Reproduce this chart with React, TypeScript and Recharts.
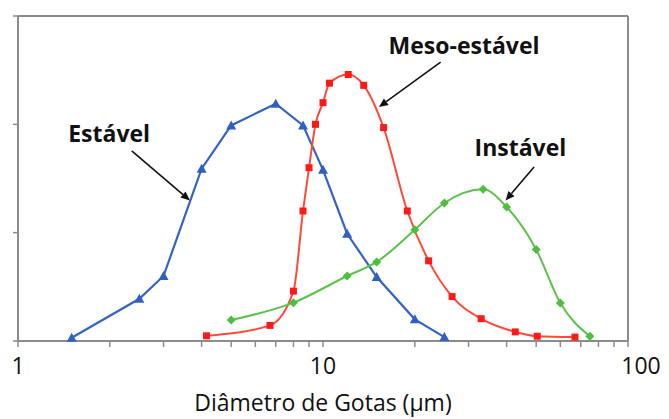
import React from "react";
import {
  LineChart,
  Line,
  XAxis,
  YAxis,
  ReferenceLine,
  ReferenceDot,
} from "recharts";

// droplet size distribution (x in µm, y in vol %)
const estavelX = [1.5, 2.5, 3, 4, 5, 7, 8.6, 10, 12, 15, 20, 25];
const estavelY = [0.15, 1.95, 3.0, 7.95, 9.95, 10.95, 9.95, 7.9, 4.95, 2.95, 1.0, 0.18];

const mesoX = [4.15, 6.7, 8, 8.6, 9, 9.45, 10, 10.5, 12.1, 13.6, 15.8, 18.9, 22.2, 26.5, 33, 42.7, 50.4, 67];
const mesoY = [0.24, 0.72, 2.3, 6.0, 8.0, 10.0, 11.0, 11.9, 12.3, 11.8, 9.85, 6.0, 3.7, 2.05, 1.03, 0.42, 0.22, 0.18];

const instavelX = [5, 8, 12, 15, 20, 25, 33.5, 40, 50, 60, 75];
const instavelY = [0.97, 1.77, 3.0, 3.65, 5.14, 6.37, 7.0, 6.18, 4.22, 1.75, 0.22];

const xTicks = [1, 2, 3, 4, 5, 6, 7, 8, 9, 10, 20, 30, 40, 50, 60, 70, 80, 90, 100];
const xLabels = [1, 10, 100];
const yTicks = [0, 5, 10, 15];

// annotations: label position, arrow start, arrow end
const labelNames = ["Estável", "Meso-estável", "Instável"];
const labelPos = [
  { x: 1.99, y: 9.55 },
  { x: 29.0, y: 13.6 },
  { x: 44.4, y: 8.9 },
];
const arrowFrom = [
  { x: 2.36, y: 8.77 },
  { x: 24.3, y: 12.87 },
  { x: 49.2, y: 8.03 },
];
const arrowTo = [
  { x: 3.66, y: 6.49 },
  { x: 15.26, y: 10.8 },
  { x: 39.7, y: 6.49 },
];

const toPoints = (xs: number[], ys: number[]) => xs.map((x, i) => ({ x, y: ys[i] }));

const estavel = toPoints(estavelX, estavelY);
const meso = toPoints(mesoX, mesoY);
const instavel = toPoints(instavelX, instavelY);

const AXIS = "#8c8c8c";
const FONT = "'Open Sans', sans-serif";

function Triangle(props: any) {
  const { cx, cy } = props;
  if (cx == null || cy == null) return null;
  return <polygon points={`${cx},${cy - 5} ${cx - 5},${cy + 4} ${cx + 5},${cy + 4}`} fill="#2f5fc0" />;
}

function Square(props: any) {
  const { cx, cy } = props;
  if (cx == null || cy == null) return null;
  return <rect x={cx - 3.5} y={cy - 3.5} width={7} height={7} fill="#ff1a1a" />;
}

function Diamond(props: any) {
  const { cx, cy } = props;
  if (cx == null || cy == null) return null;
  return <polygon points={`${cx},${cy - 4.5} ${cx + 4.5},${cy} ${cx},${cy + 4.5} ${cx - 4.5},${cy}`} fill="#4cbf3c" />;
}

function Arrow(props: any) {
  const { x1, y1, x2, y2 } = props;
  const ang = Math.atan2(y2 - y1, x2 - x1);
  const len = 9;
  const w = 4;
  const bx = x2 - len * Math.cos(ang);
  const by = y2 - len * Math.sin(ang);
  const px = -Math.sin(ang) * w;
  const py = Math.cos(ang) * w;
  return (
    <g>
      <line x1={x1} y1={y1} x2={bx} y2={by} stroke="#111" strokeWidth={1.6} />
      <polygon points={`${x2},${y2} ${bx + px},${by + py} ${bx - px},${by - py}`} fill="#111" />
    </g>
  );
}

function XTick(props: any) {
  const { x, y, payload } = props;
  if (!xLabels.includes(payload.value)) return null;
  const dx = payload.value === 100 ? 13 : 0;
  return (
    <text x={x + dx} y={y + 25} textAnchor="middle" fontFamily={FONT} fontSize={23} fill="#111">
      {payload.value}
    </text>
  );
}

export default function App() {
  return (
    <LineChart
      width={653}
      height={411}
      margin={{ top: 8, right: 33, bottom: 0, left: 0 }}
    >
      <XAxis
        dataKey="x"
        type="number"
        scale="log"
        domain={[1, 100]}
        allowDataOverflow
        ticks={xTicks}
        interval={0}
        tick={<XTick />}
        tickSize={6}
        height={78}
        axisLine={{ stroke: AXIS, strokeWidth: 2 }}
        tickLine={{ stroke: AXIS, strokeWidth: 1.5 }}
        label={{
          value: "Diâmetro de Gotas (μm)",
          position: "insideBottom",
          offset: 8,
          style: { fontFamily: FONT, fontSize: 23, fill: "#111" },
        }}
      />
      <YAxis
        type="number"
        domain={[0, 15]}
        ticks={yTicks}
        width={10}
        tickSize={5}
        tickFormatter={() => ""}
        axisLine={{ stroke: AXIS, strokeWidth: 2 }}
        tickLine={{ stroke: AXIS, strokeWidth: 1.5 }}
      />
      <ReferenceLine y={15} stroke={AXIS} strokeWidth={2} />
      <ReferenceLine x={100} stroke={AXIS} strokeWidth={2} />

      <Line
        data={estavel}
        dataKey="y"
        type="linear"
        stroke="#3463c3"
        strokeWidth={2.2}
        dot={<Triangle />}
        activeDot={false}
        isAnimationActive={false}
      />
      <Line
        data={meso}
        dataKey="y"
        type="monotone"
        stroke="#ff4a3a"
        strokeWidth={2}
        dot={<Square />}
        activeDot={false}
        isAnimationActive={false}
      />
      <Line
        data={instavel}
        dataKey="y"
        type="monotone"
        stroke="#5cc24c"
        strokeWidth={2}
        dot={<Diamond />}
        activeDot={false}
        isAnimationActive={false}
      />

      {labelNames.map((name, i) => (
        <ReferenceLine
          key={"a" + i}
          segment={[arrowFrom[i], arrowTo[i]]}
          shape={<Arrow />}
        />
      ))}
      {labelNames.map((name, i) => (
        <ReferenceDot
          key={"l" + i}
          x={labelPos[i].x}
          y={labelPos[i].y}
          r={0}
          shape={(p: any) => (
            <text
              x={p.cx}
              y={p.cy}
              dy={8}
              textAnchor="middle"
              fontFamily={FONT}
              fontWeight="bold"
              fontSize={23}
              fill="#111"
            >
              {name}
            </text>
          )}
        />
      ))}
    </LineChart>
  );
}
